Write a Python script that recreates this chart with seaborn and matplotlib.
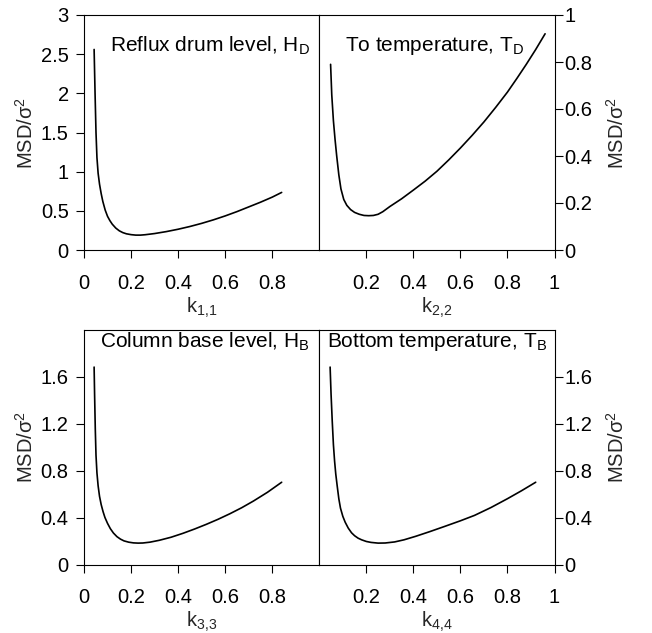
import matplotlib
matplotlib.use("Agg")
import matplotlib.pyplot as plt
import seaborn as sns
import pandas as pd

# ---- data ----
k11 = [0.043, 0.047, 0.051, 0.055, 0.06, 0.066, 0.073, 0.08, 0.09, 0.1, 0.11, 0.12, 0.135,
       0.15, 0.165, 0.18, 0.2, 0.22, 0.24, 0.26, 0.3, 0.35, 0.4, 0.45, 0.5, 0.55, 0.6,
       0.65, 0.7, 0.75, 0.8, 0.84]
msd1 = [2.56, 2.0, 1.5, 1.18, 0.98, 0.84, 0.72, 0.62, 0.51, 0.43, 0.375, 0.33, 0.28,
        0.245, 0.222, 0.207, 0.196, 0.19, 0.19, 0.195, 0.21, 0.235, 0.265, 0.3, 0.34,
        0.385, 0.435, 0.49, 0.55, 0.61, 0.675, 0.735]

k22 = [0.048, 0.053, 0.06, 0.067, 0.074, 0.083, 0.092, 0.104, 0.117, 0.133, 0.15, 0.17,
       0.19, 0.21, 0.23, 0.25, 0.27, 0.3, 0.35, 0.4, 0.45, 0.5, 0.55, 0.6, 0.65, 0.7,
       0.75, 0.8, 0.84, 0.88, 0.92, 0.96]
msd2 = [0.79, 0.66, 0.55, 0.47, 0.40, 0.32, 0.26, 0.215, 0.19, 0.172, 0.16, 0.152,
        0.147, 0.146, 0.147, 0.152, 0.163, 0.185, 0.218, 0.255, 0.293, 0.335, 0.383,
        0.434, 0.488, 0.545, 0.607, 0.672, 0.73, 0.79, 0.853, 0.92]

k33 = [0.043, 0.045, 0.048, 0.051, 0.055, 0.06, 0.066, 0.073, 0.081, 0.089, 0.1, 0.112,
       0.125, 0.14, 0.155, 0.17, 0.19, 0.21, 0.23, 0.25, 0.28, 0.32, 0.37, 0.42, 0.47,
       0.52, 0.57, 0.62, 0.67, 0.72, 0.78, 0.84]
msd3 = [1.68, 1.45, 1.15, 0.93, 0.78, 0.67, 0.58, 0.51, 0.45, 0.40, 0.35, 0.305, 0.268,
        0.237, 0.216, 0.201, 0.19, 0.184, 0.182, 0.183, 0.19, 0.206, 0.232, 0.265, 0.302,
        0.342, 0.385, 0.432, 0.483, 0.54, 0.615, 0.70]

k44 = [0.046, 0.05, 0.055, 0.06, 0.065, 0.07, 0.076, 0.083, 0.09, 0.1, 0.11, 0.123,
       0.137, 0.15, 0.165, 0.18, 0.2, 0.22, 0.25, 0.28, 0.32, 0.36, 0.41, 0.47, 0.53,
       0.6, 0.66, 0.73, 0.8, 0.86, 0.92]
msd4 = [1.68, 1.45, 1.22, 1.02, 0.88, 0.77, 0.67, 0.56, 0.48, 0.41, 0.36, 0.31, 0.27,
        0.245, 0.224, 0.21, 0.196, 0.188, 0.182, 0.183, 0.192, 0.21, 0.24, 0.28, 0.322,
        0.372, 0.418, 0.485, 0.56, 0.628, 0.70]

titles = [r"Reflux drum level, H$_\mathregular{D}$",
          r"To temperature, T$_\mathregular{D}$",
          r"Column base level, H$_\mathregular{B}$",
          r"Bottom temperature, T$_\mathregular{B}$"]
xlabels = [r"k$_\mathregular{1{,}1}$", r"k$_\mathregular{2{,}2}$",
           r"k$_\mathregular{3{,}3}$", r"k$_\mathregular{4{,}4}$"]
ylabel = r"MSD/σ$^\mathregular{2}$"

left_xticks = [0, 0.2, 0.4, 0.6, 0.8]
left_xticklabels = ["0", "0.2", "0.4", "0.6", "0.8"]
right_xticks = [0.2, 0.4, 0.6, 0.8, 1.0]
right_xticklabels = ["0.2", "0.4", "0.6", "0.8", "1"]
yticks1 = [0, 0.5, 1, 1.5, 2, 2.5, 3]
yticklabels1 = ["0", "0.5", "1", "1.5", "2", "2.5", "3"]
yticks2 = [0, 0.2, 0.4, 0.6, 0.8, 1.0]
yticklabels2 = ["0", "0.2", "0.4", "0.6", "0.8", "1"]
yticks34 = [0, 0.4, 0.8, 1.2, 1.6]
yticklabels34 = ["0", "0.4", "0.8", "1.2", "1.6"]

sns.set_theme(style="ticks")
plt.rcParams["font.family"] = ["Liberation Sans", "DejaVu Sans"]
plt.rcParams["mathtext.fontset"] = "custom"
plt.rcParams["mathtext.rm"] = "Liberation Sans"
plt.rcParams["axes.linewidth"] = 0.8
plt.rcParams["axes.edgecolor"] = "black"

FS = 14.5
TFS = 15
fig = plt.figure(figsize=(6.52, 6.33), dpi=100)

W, H = 652, 633
def rect(x0, y0, x1, y1):
    return [x0 / W, 1 - y1 / H, (x1 - x0) / W, (y1 - y0) / H]

ax1 = fig.add_axes(rect(84, 15, 319.3, 250))
ax2 = fig.add_axes(rect(319.3, 15, 554.5, 250))
ax3 = fig.add_axes(rect(84, 329.5, 319.3, 564.5))
ax4 = fig.add_axes(rect(319.3, 329.5, 554.5, 564.5))

datasets = [(k11, msd1), (k22, msd2), (k33, msd3), (k44, msd4)]
axes = [ax1, ax2, ax3, ax4]
ylims = [(0, 3), (0, 1), (0, 2), (0, 2)]
yts = [(yticks1, yticklabels1), (yticks2, yticklabels2),
       (yticks34, yticklabels34), (yticks34, yticklabels34)]
text_pos = [(0.11, 0.868), (0.109, 0.866), (0.068, 0.948), (0.031, 0.948)]

for i, (ax, (kx, my)) in enumerate(zip(axes, datasets)):
    df = pd.DataFrame({"k": kx, "msd": my})
    sns.lineplot(data=df, x="k", y="msd", ax=ax, color="black", linewidth=1.2,
                 sort=False, estimator=None)
    ax.set_xlim(0, 1)
    ax.set_ylim(*ylims[i])
    is_right = i % 2 == 1
    if is_right:
        ax.set_xticks(right_xticks)
        ax.set_xticklabels(right_xticklabels)
        ax.yaxis.tick_right()
        ax.yaxis.set_label_position("right")
    else:
        ax.set_xticks(left_xticks)
        ax.set_xticklabels(left_xticklabels)
    ax.set_yticks(yts[i][0])
    ax.set_yticklabels(yts[i][1])
    for s in ax.spines.values():
        s.set_visible(True)
        s.set_color("black")
        s.set_linewidth(0.8)
    ax.tick_params(axis="both", direction="out", length=6, width=0.8,
                   labelsize=FS, colors="black")
    ax.tick_params(axis="x", pad=11)
    ax.tick_params(axis="y", pad=1 if is_right else 5)
    ax.set_xlabel(xlabels[i], fontsize=FS, labelpad=2)
    ax.set_ylabel(ylabel, fontsize=FS, labelpad=10 if is_right else 3)
    if is_right:
        ax.yaxis.label.set_rotation(90)
    ax.text(text_pos[i][0], text_pos[i][1], titles[i], transform=ax.transAxes,
            fontsize=TFS, ha="left", va="center", color="black")
    ax.grid(False)

fig.savefig("out.png", dpi=100, facecolor="white")
